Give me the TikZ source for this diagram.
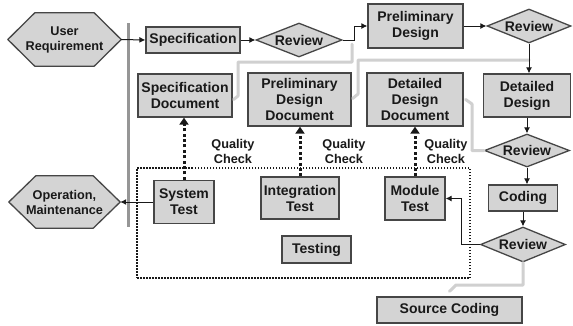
\documentclass[tikz,border=0pt]{standalone}
\usepackage{fontspec}
\setmainfont{Liberation Sans}
\usetikzlibrary{shapes.geometric,arrows.meta,calc,backgrounds}

\definecolor{boxfill}{RGB}{212,212,212}
\definecolor{boxline}{RGB}{70,70,70}
\definecolor{ink}{RGB}{25,25,25}
\definecolor{pale}{RGB}{208,208,208}
\definecolor{barcol}{RGB}{150,150,150}

\tikzset{
  base/.style={font=\bfseries\fontsize{14}{16}\selectfont, text=ink, align=center, inner sep=0pt},
  stepbox/.style={base, rectangle, draw=boxline, fill=boxfill, line width=1.3pt},
  rev/.style={base, diamond, aspect=2.5, draw=boxline, fill=boxfill, line width=1.3pt,
              minimum width=86pt, minimum height=34pt},
  hexlabel/.style={base, font=\bfseries\fontsize{12.7}{15}\selectfont},
  hexfill/.style={draw=boxline, fill=boxfill, line width=1.3pt, line join=round},
  flow/.style={draw=ink, line width=1pt, -{Latex[length=6pt,width=6pt]}},
  docflow/.style={draw=pale, line width=3pt, line join=round, line cap=round},
  qc/.style={draw=ink, line width=3pt, dash pattern=on 3pt off 2.4pt, -{Triangle[length=7pt,width=9pt]}},
  note/.style={base, font=\bfseries\fontsize{12.7}{15}\selectfont},
  zone/.style={draw=ink, line width=1.4pt, dash pattern=on 1.5pt off 1.5pt},
}

\begin{document}
\begin{tikzpicture}[x=1pt, y=-1pt]
\useasboundingbox (0,0) rectangle (573,325);

% boundary bar between the outside world and the process
\draw[barcol, line width=3pt] (128,23) -- (128,227);

% testing area
\node[zone, minimum width=333pt, minimum height=110pt] (zone) at (303.5,223) {};

% hexagonal terminals
\node[hexlabel, minimum width=113pt, minimum height=53pt] (ur) at (64.5,39.5) {User\\Requirement};
\node[hexlabel, minimum width=111pt, minimum height=52pt] (om) at (64.5,202) {Operation,\\Maintenance};
\begin{scope}[on background layer]
  \fill[white] (0,0) rectangle (573,325);
  \draw[hexfill] (ur.west) -- ([xshift=27pt]ur.north west) -- ([xshift=-27pt]ur.north east)
    -- (ur.east) -- ([xshift=-27pt]ur.south east) -- ([xshift=27pt]ur.south west) -- cycle;
  \draw[hexfill] (om.west) -- ([xshift=27pt]om.north west) -- ([xshift=-27pt]om.north east)
    -- (om.east) -- ([xshift=-27pt]om.south east) -- ([xshift=27pt]om.south west) -- cycle;
\end{scope}

% development steps
\node[stepbox, minimum width=94pt, minimum height=26pt] (spec) at (193,40) {Specification};
\node[rev] (rev1) at (299,40) {Review};
\node[stepbox, minimum width=95pt, minimum height=44pt] (pd) at (415.5,26) {Preliminary\\Design};
\node[rev, minimum width=84pt] (rev2) at (529,26) {Review};
\node[stepbox, minimum width=87pt, minimum height=43pt] (dd) at (527,95.5) {Detailed\\Design};
\node[rev, minimum width=85pt, minimum height=33pt] (rev3) at (527,150.5) {Review};
\node[stepbox, minimum width=69pt, minimum height=26pt] (cod) at (523,198) {Coding};
\node[rev, minimum width=85pt, minimum height=35pt] (rev4) at (523,244.5) {Review};
\node[stepbox, minimum width=145pt, minimum height=26pt] (src) at (449.5,310) {Source Coding};

% documents
\node[stepbox, minimum width=94pt, minimum height=43pt] (sdoc) at (185,95.5) {Specification\\Document};
\node[stepbox, minimum width=103pt, minimum height=53pt] (pdoc) at (299.5,99.5) {Preliminary\\Design\\Document};
\node[stepbox, minimum width=96pt, minimum height=53pt] (ddoc) at (415,99.5) {Detailed\\Design\\Document};

% tests
\node[stepbox, minimum width=60pt, minimum height=43pt] (st) at (184,202) {System\\Test};
\node[stepbox, minimum width=78pt, minimum height=42pt] (it) at (300,198) {Integration\\Test};
\node[stepbox, minimum width=60pt, minimum height=43pt] (mt) at (415,198.5) {Module\\Test};
\node[stepbox, minimum width=69pt, minimum height=27pt] (tst) at (316.5,249.5) {Testing};

% quality check labels
\node[note] (q1) at (233,151) {Quality\\Check};
\node[note] (q2) at (344,151) {Quality\\Check};
\node[note] (q3) at (446,151) {Quality\\Check};

% document hand-offs
\draw[docflow] (352,44) |- (238,62) -- (238,96) -- ($(sdoc.east)+(1,4)$);
\draw[docflow] (529,60) -- (358,60) -- (358,94) -- ($(pdoc.east)+(1,-1)$);
\draw[docflow] (rev3.west) -- (472,150.5) -- (472,104) -- ($(ddoc.east)+(2,0)$);
\draw[docflow] (rev4.south) |- (456,285) -- ($(src.north)+(0,-5)$);

% main flow
\draw[flow] (ur.east) -- (spec.west);
\draw[flow] (spec.east) -- (rev1.west);
\draw[flow] (rev1.east) -- ++(12,0) |- (pd.west);
\draw[flow] (pd.east) -- (rev2.west);
\draw[flow] (rev2.south) -- (rev2.south |- dd.north);
\draw[flow] (dd.south) -- (rev3.north);
\draw[flow] (rev3.south) -- (rev3.south |- cod.north);
\draw[flow] (cod.south) -- (rev4.north);
\draw[flow] (rev4.west) -- ++(-18,0) |- (mt.east);
\draw[flow] (st.west) -- (om.east);

% quality checks
\draw[qc] (st.north) -- (st.north |- sdoc.south);
\draw[qc] (it.north) -- (it.north |- pdoc.south);
\draw[qc] (mt.north) -- (mt.north |- ddoc.south);
\end{tikzpicture}
\end{document}
